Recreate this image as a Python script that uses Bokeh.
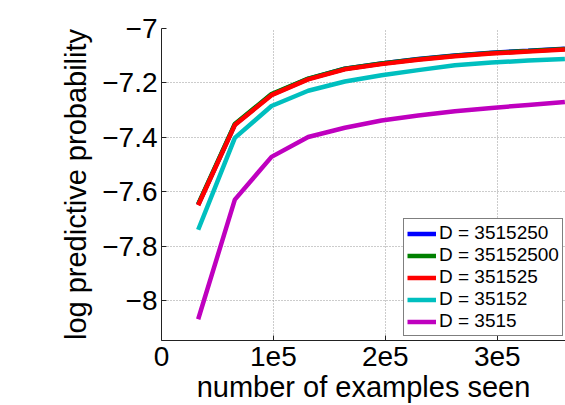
from bokeh.plotting import figure
from bokeh.models import Range1d, FixedTicker, Legend, LegendItem, CustomJSTickFormatter
from bokeh.embed import file_html
from bokeh.resources import INLINE

# ---- data ----
examples = [32768, 65536, 98304, 131072, 163840, 196608, 229376, 262144, 294912, 327680, 360448]
d_3515250 = [-7.648, -7.353, -7.243, -7.185, -7.148, -7.129, -7.112, -7.099, -7.089, -7.082, -7.074]
d_35152500 = [-7.646, -7.351, -7.241, -7.184, -7.148, -7.129, -7.113, -7.100, -7.090, -7.083, -7.075]
d_351525 = [-7.650, -7.355, -7.245, -7.187, -7.150, -7.131, -7.115, -7.102, -7.092, -7.085, -7.077]
d_35152 = [-7.740, -7.402, -7.285, -7.229, -7.195, -7.172, -7.153, -7.135, -7.125, -7.118, -7.112]
d_3515 = [-8.069, -7.629, -7.472, -7.399, -7.365, -7.338, -7.320, -7.304, -7.292, -7.281, -7.270]

series_labels = ["D = 3515250", "D = 35152500", "D = 351525", "D = 35152", "D = 3515"]
series_colors = ["#0000ff", "#008000", "#ff0000", "#00bfbf", "#bf00bf"]
series_values = [d_3515250, d_35152500, d_351525, d_35152, d_3515]

x_ticks = [0, 100000, 200000, 300000]
x_tick_labels = ["0", "1e5", "2e5", "3e5"]
y_ticks = [-8, -7.8, -7.6, -7.4, -7.2, -7]

FONT = "Liberation Sans"

p = figure(width=565, height=405, output_backend="svg", toolbar_location=None,
           x_range=Range1d(0, 361000), y_range=Range1d(-8.147, -7.0),
           min_border_left=161, min_border_right=0, min_border_top=28, min_border_bottom=62)
p.outline_line_color = None
p.background_fill_color = "white"
p.border_fill_color = "white"

items = []
for lab, col, vals in zip(series_labels, series_colors, series_values):
    r = p.line(examples, vals, line_color=col, line_width=4.5)
    items.append(LegendItem(label=lab, renderers=[r]))

# axes
for ax in (p.xaxis[0], p.yaxis[0]):
    ax.major_tick_in = 5
    ax.major_tick_out = 0
    ax.minor_tick_line_color = None
    ax.axis_line_color = "#222222"
    ax.major_tick_line_color = "#222222"
    ax.major_label_text_font = FONT
    ax.major_label_text_font_size = "28px"
    ax.major_label_text_color = "black"
    ax.axis_label_text_font = FONT
    ax.axis_label_text_font_style = "normal"
    ax.axis_label_text_font_size = "29px"
    ax.axis_label_text_color = "black"

p.xaxis.ticker = FixedTicker(ticks=x_ticks)
p.xaxis.major_label_overrides = {t: l for t, l in zip(x_ticks, x_tick_labels)}
p.xaxis.axis_label = "number of examples seen"
p.xaxis.major_label_standoff = 6
p.xaxis.axis_label_standoff = 2

p.yaxis.ticker = FixedTicker(ticks=y_ticks)
p.yaxis.formatter = CustomJSTickFormatter(code="""
    var s = String(Math.round(tick * 10) / 10);
    return s.replace('-', '\u2212');
""")
p.yaxis.axis_label = "log predictive probability"
p.yaxis.major_label_standoff = 4
p.yaxis.axis_label_standoff = 7

# grid
for g in (p.xgrid[0], p.ygrid[0]):
    g.grid_line_color = "#999999"
    g.grid_line_dash = "1 2"
    g.grid_line_width = 1
p.xgrid.ticker = FixedTicker(ticks=x_ticks)
p.ygrid.ticker = FixedTicker(ticks=y_ticks)

legend = Legend(items=items, location=(242, 4))
legend.label_text_font = FONT
legend.label_text_font_size = "19px"
legend.label_text_color = "black"
legend.label_height = 19
legend.glyph_height = 19
legend.glyph_width = 29
legend.label_standoff = 3
legend.spacing = -1
legend.padding = 3
legend.margin = 0
legend.border_line_color = "black"
legend.border_line_width = 1
legend.background_fill_color = "white"
legend.background_fill_alpha = 1
p.add_layout(legend)

open("out.html", "w").write(file_html(p, INLINE))
